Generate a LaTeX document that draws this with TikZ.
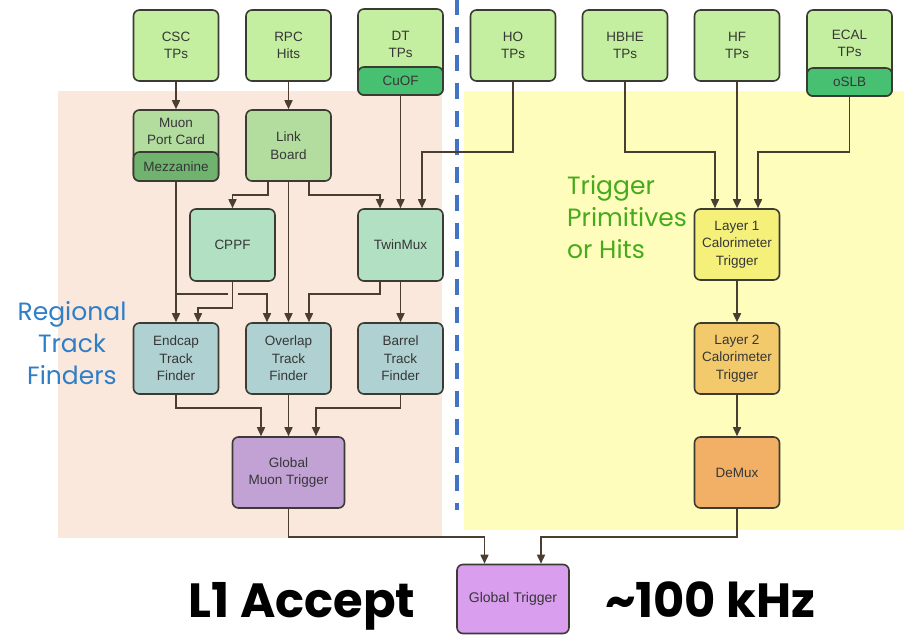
\documentclass[tikz,border=0pt]{standalone}
\usepackage{fontspec}
\setmainfont{Liberation Sans}
\newfontfamily\gothic{Poppins}
\usetikzlibrary{arrows.meta}

\definecolor{edge}{HTML}{3B3B33}
\definecolor{wirecol}{HTML}{4A3D31}
\definecolor{boxtext}{HTML}{363636}
\definecolor{srcgreen}{HTML}{C5EFA0}
\definecolor{optgreen}{HTML}{48C071}
\definecolor{mpcgreen}{HTML}{B3DD9F}
\definecolor{mezzgreen}{HTML}{6FB36E}
\definecolor{mint}{HTML}{B2E0C2}
\definecolor{tfblue}{HTML}{B0D1D2}
\definecolor{gmtpurple}{HTML}{C2A2D5}
\definecolor{gtpurple}{HTML}{DA9EEF}
\definecolor{l1yellow}{HTML}{F4F07A}
\definecolor{l2orange}{HTML}{F2C96B}
\definecolor{demuxorange}{HTML}{F1B066}
\definecolor{muonbg}{HTML}{FAE8DC}
\definecolor{calobg}{HTML}{FFFDBB}
\definecolor{splitblue}{HTML}{4472C4}
\definecolor{regblue}{HTML}{2F7FC8}
\definecolor{trigreen}{HTML}{45AA1E}

\tikzset{
  box/.style={draw=edge, line width=1.6pt, rounded corners=6pt,
    minimum width=85pt, minimum height=71pt, inner sep=0pt, align=center,
    text=boxtext, font=\fontsize{13.5}{17.5}\selectfont},
  srcbox/.style={box, fill=srcgreen},
  subbox/.style={box, minimum height=28pt},
  caption/.style={inner sep=0pt, align=center, text=boxtext,
    font=\fontsize{13.5}{17.5}\selectfont},
  wire/.style={draw=wirecol, line width=1.6pt},
  arr/.style={wire, -{Triangle[length=9pt,width=8pt]}}
}

\begin{document}
\begin{tikzpicture}[x=1pt,y=-1pt]
\useasboundingbox (0,0) rectangle (904,635);
\fill[white] (0,0) rectangle (904,635);

% shaded regions: muon side and calorimeter side
\fill[muonbg] (58,91) rectangle (442,538);
\fill[calobg] (464,91) rectangle (904,530);
\draw[splitblue, line width=4.5pt, dash pattern=on 16pt off 12pt] (457,-1) -- (457,510);

% bend rows of the connectors
\coordinate (rowA) at (0,152);
\coordinate (rowB) at (0,195);
\coordinate (rowC) at (0,294);
\coordinate (rowD) at (0,308);
\coordinate (rowE) at (0,408);
\coordinate (rowF) at (0,537);

% detector inputs
\node[srcbox] (csc) at (176,45.5) {CSC\\TPs};
\node[srcbox] (rpc) at (288.5,45.5) {RPC\\Hits};
\node[srcbox, minimum height=86pt] (dt) at (400.5,52) {};
\node[subbox, fill=optgreen, anchor=south] (cuof) at (dt.south) {CuOF};
\node[caption] (dttext) at (400.5,44.5) {DT\\TPs};
\node[srcbox] (ho) at (513,45.5) {HO\\TPs};
\node[srcbox] (hbhe) at (625,45.5) {HBHE\\TPs};
\node[srcbox] (hf) at (737,45.5) {HF\\TPs};
\node[srcbox, minimum height=86pt] (ecal) at (849.5,53) {};
\node[subbox, fill=optgreen, anchor=south] (oslb) at (ecal.south) {oSLB};
\node[caption] (ecaltext) at (849.5,43.5) {ECAL\\TPs};

% muon chain
\node[box, fill=mpcgreen] (mpc) at (176,145.5) {};
\node[subbox, fill=mezzgreen, minimum height=29pt, anchor=south] (mezz) at (mpc.south) {Mezzanine};
\node[caption] (mpctext) at (176,131.5) {Muon\\Port Card};
\node[box, fill=mpcgreen] (link) at (288.5,145.5) {Link\\Board};
\node[box, fill=mint, minimum height=72pt] (cppf) at (232.5,245) {CPPF};
\node[box, fill=mint, minimum height=72pt] (twinmux) at (400.5,245) {TwinMux};
\node[box, fill=tfblue] (endcap) at (176,358.5) {Endcap\\Track\\Finder};
\node[box, fill=tfblue] (overlap) at (288.5,358.5) {Overlap\\Track\\Finder};
\node[box, fill=tfblue] (barrel) at (400.5,358.5) {Barrel\\Track\\Finder};
\node[box, fill=gmtpurple, minimum width=112pt] (gmt) at (288.5,472.5) {Global\\Muon Trigger};

% calorimeter chain
\node[box, fill=l1yellow] (layer1) at (737,244.5) {Layer 1\\Calorimeter\\Trigger};
\node[box, fill=l2orange] (layer2) at (737,358.5) {Layer 2\\Calorimeter\\Trigger};
\node[box, fill=demuxorange] (demux) at (737,472.5) {DeMux};

% global trigger
\node[box, fill=gtpurple, minimum width=112pt, minimum height=69pt,
  font=\fontsize{14}{16}\selectfont] (gt) at (513,599) {Global Trigger};

% helper points on box edges
\coordinate (lbL) at ([xshift=-20.5pt]link.south);
\coordinate (lbR) at ([xshift=20.5pt]link.south);
\coordinate (tmL) at ([xshift=-20.5pt]twinmux.south);
\path (cppf.south |- rowC) coordinate (hop);

% muon connectors
\draw[arr] (csc.south) -- (mpc.north);
\draw[arr] (rpc.south) -- (link.north);
\draw[arr] (cuof.south) -- (twinmux.north);
\draw[arr] (ho.south) -- (ho.south |- rowA) -| ([xshift=21.5pt]twinmux.north);
\draw[arr] (lbL) -- (lbL |- rowB) -| (cppf.north);
\draw[arr] (link.south) -- (overlap.north);
\draw[arr] (lbR) -- (lbR |- rowB) -| ([xshift=-20.5pt]twinmux.north);
\draw[arr] (mezz.south) -- (endcap.north);
\draw[wire] (mezz.south |- rowC) -- ([xshift=-5pt]hop);
\draw[arr] ([xshift=5pt]hop) -| ([xshift=-21.5pt]overlap.north);
\draw[arr] (cppf.south) -- (cppf.south |- rowD) -| ([xshift=22pt]endcap.north);
\draw[arr] (tmL) -- (tmL |- rowC) -| ([xshift=20.5pt]overlap.north);
\draw[arr] (twinmux.south) -- (barrel.north);
\draw[arr] (endcap.south) -- (endcap.south |- rowE) -| ([xshift=-27.5pt]gmt.north);
\draw[arr] (overlap.south) -- (gmt.north);
\draw[arr] (barrel.south) -- (barrel.south |- rowE) -| ([xshift=27.5pt]gmt.north);

% calorimeter connectors
\draw[arr] (hbhe.south) -- (hbhe.south |- rowA) -| ([xshift=-22pt]layer1.north);
\draw[arr] (hf.south) -- (layer1.north);
\draw[arr] (oslb.south) -- (oslb.south |- rowA) -| ([xshift=21pt]layer1.north);
\draw[arr] (layer1.south) -- (layer2.north);
\draw[arr] (layer2.south) -- (demux.north);

% into the global trigger
\draw[arr] (gmt.south) -- (gmt.south |- rowF) -| ([xshift=-28.5pt]gt.north);
\draw[arr] (demux.south) -- (demux.south |- rowF) -| ([xshift=28pt]gt.north);

% side labels
\node[inner sep=0pt, align=center, text=regblue, font=\gothic\fontsize{25}{32}\selectfont]
  (regional) at (72,343) {Regional\\Track\\Finders};
\node[inner sep=0pt, align=left, anchor=west, text=trigreen, font=\gothic\fontsize{25}{32}\selectfont]
  (primitives) at (567,217) {Trigger\\Primitives\\or Hits};
\node[inner sep=0pt, anchor=base, font=\gothic\bfseries\fontsize{48}{56}\selectfont]
  (accept) at (302,617) {L1 Accept};
\node[inner sep=0pt, anchor=base, font=\gothic\bfseries\fontsize{48}{56}\selectfont]
  (rate) at (710,617) {\textasciitilde100 kHz};
\end{tikzpicture}
\end{document}
